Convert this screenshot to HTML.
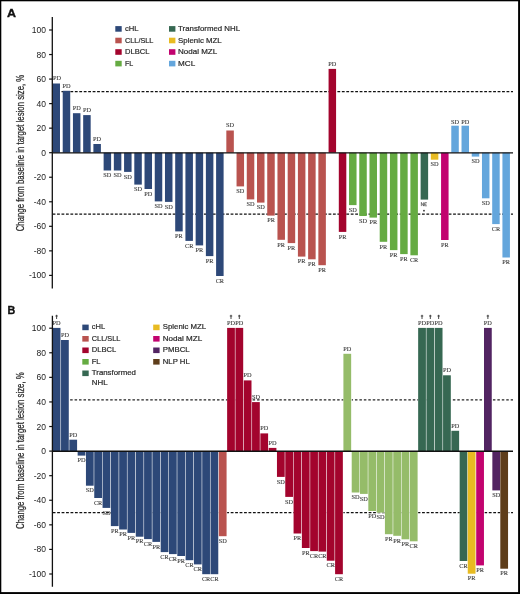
<!DOCTYPE html>
<html><head><meta charset="utf-8"><style>html,body{margin:0;padding:0;background:#fff;}svg{display:block;will-change:transform;}</style></head><body>
<svg width="520" height="594" viewBox="0 0 520 594">
<style>.l{font-family:"Liberation Serif",serif;font-size:6.3px;fill:#383838;stroke:#383838;stroke-width:0.1px;text-anchor:middle}.t{font-family:"Liberation Sans",sans-serif;font-size:8.5px;fill:#222;text-anchor:end}.g{font-family:"Liberation Sans",sans-serif;font-size:7.2px;fill:#2a2a2a;stroke:#2a2a2a;stroke-width:0.2px}.y{font-family:"Liberation Sans",sans-serif;font-size:10px;fill:#2a2a2a;stroke:#2a2a2a;stroke-width:0.25px}.p{font-family:"Liberation Sans",sans-serif;font-size:11.3px;font-weight:bold;fill:#111;stroke:#111;stroke-width:0.35px}</style>
<rect x="0" y="0" width="520" height="594" fill="#fff"/>
<line x1="52.6" y1="91.6" x2="513" y2="91.6" stroke="#111" stroke-width="1.3" stroke-dasharray="2.8 1.65"/>
<line x1="52.6" y1="214.2" x2="513" y2="214.2" stroke="#111" stroke-width="1.3" stroke-dasharray="2.8 1.65"/>
<rect x="52.49" y="83.5" width="7.5" height="69.2" fill="#2d4878"/>
<rect x="62.72" y="90.8" width="7.5" height="61.9" fill="#2d4878"/>
<rect x="72.94" y="113.2" width="7.5" height="39.5" fill="#2d4878"/>
<rect x="83.17" y="115.1" width="7.5" height="37.6" fill="#2d4878"/>
<rect x="93.39" y="144" width="7.5" height="8.7" fill="#2d4878"/>
<rect x="103.62" y="152.7" width="7.5" height="17.8" fill="#2d4878"/>
<rect x="113.84" y="152.7" width="7.5" height="17.8" fill="#2d4878"/>
<rect x="124.07" y="152.7" width="7.5" height="19.2" fill="#2d4878"/>
<rect x="134.3" y="152.7" width="7.5" height="31.9" fill="#2d4878"/>
<rect x="144.52" y="152.7" width="7.5" height="36.3" fill="#2d4878"/>
<rect x="154.75" y="152.7" width="7.5" height="48.7" fill="#2d4878"/>
<rect x="164.97" y="152.7" width="7.5" height="49.2" fill="#2d4878"/>
<rect x="175.2" y="152.7" width="7.5" height="78.7" fill="#2d4878"/>
<rect x="185.42" y="152.7" width="7.5" height="88.2" fill="#2d4878"/>
<rect x="195.65" y="152.7" width="7.5" height="92.7" fill="#2d4878"/>
<rect x="205.88" y="152.7" width="7.5" height="103.4" fill="#2d4878"/>
<rect x="216.1" y="152.7" width="7.5" height="123.3" fill="#2d4878"/>
<rect x="226.33" y="130.5" width="7.5" height="22.2" fill="#b9534f"/>
<rect x="236.55" y="152.7" width="7.5" height="33.7" fill="#b9534f"/>
<rect x="246.78" y="152.7" width="7.5" height="46.7" fill="#b9534f"/>
<rect x="257" y="152.7" width="7.5" height="49.9" fill="#b9534f"/>
<rect x="267.23" y="152.7" width="7.5" height="62.9" fill="#b9534f"/>
<rect x="277.46" y="152.7" width="7.5" height="87.1" fill="#b9534f"/>
<rect x="287.68" y="152.7" width="7.5" height="90.4" fill="#b9534f"/>
<rect x="297.91" y="152.7" width="7.5" height="103.9" fill="#b9534f"/>
<rect x="308.13" y="152.7" width="7.5" height="106.6" fill="#b9534f"/>
<rect x="318.36" y="152.7" width="7.5" height="112.5" fill="#b9534f"/>
<rect x="328.58" y="68.9" width="7.5" height="83.8" fill="#a3042d"/>
<rect x="338.81" y="152.7" width="7.5" height="79.2" fill="#a3042d"/>
<rect x="349.04" y="152.7" width="7.5" height="52.4" fill="#65ab42"/>
<rect x="359.26" y="152.7" width="7.5" height="63.3" fill="#65ab42"/>
<rect x="369.49" y="152.7" width="7.5" height="64.9" fill="#65ab42"/>
<rect x="379.71" y="152.7" width="7.5" height="89.1" fill="#65ab42"/>
<rect x="389.94" y="152.7" width="7.5" height="97.4" fill="#65ab42"/>
<rect x="400.16" y="152.7" width="7.5" height="101.4" fill="#65ab42"/>
<rect x="410.39" y="152.7" width="7.5" height="102.6" fill="#65ab42"/>
<rect x="420.62" y="152.7" width="7.5" height="46.9" fill="#366852"/>
<rect x="430.84" y="152.7" width="7.5" height="7" fill="#e8bb22"/>
<rect x="441.07" y="152.7" width="7.5" height="87.3" fill="#c2036f"/>
<rect x="451.29" y="125.7" width="7.5" height="27" fill="#64a6dc"/>
<rect x="461.52" y="125.7" width="7.5" height="27" fill="#64a6dc"/>
<rect x="471.74" y="152.7" width="7.5" height="3.9" fill="#64a6dc"/>
<rect x="481.97" y="152.7" width="7.5" height="45.6" fill="#64a6dc"/>
<rect x="492.2" y="152.7" width="7.5" height="71.4" fill="#64a6dc"/>
<rect x="502.42" y="152.7" width="7.5" height="104.8" fill="#64a6dc"/>
<line x1="52.3" y1="152.9" x2="513" y2="152.9" stroke="#111111" stroke-width="1.4"/>
<line x1="52.3" y1="17" x2="52.3" y2="288.6" stroke="#111111" stroke-width="1.3"/>
<line x1="49.1" y1="30" x2="52.3" y2="30" stroke="#111111" stroke-width="1.2"/>
<text x="46.0" y="33" class="t">100</text>
<line x1="49.1" y1="54.54" x2="52.3" y2="54.54" stroke="#111111" stroke-width="1.2"/>
<text x="46.0" y="57.54" class="t">80</text>
<line x1="49.1" y1="79.08" x2="52.3" y2="79.08" stroke="#111111" stroke-width="1.2"/>
<text x="46.0" y="82.08" class="t">60</text>
<line x1="49.1" y1="103.62" x2="52.3" y2="103.62" stroke="#111111" stroke-width="1.2"/>
<text x="46.0" y="106.62" class="t">40</text>
<line x1="49.1" y1="128.16" x2="52.3" y2="128.16" stroke="#111111" stroke-width="1.2"/>
<text x="46.0" y="131.16" class="t">20</text>
<line x1="49.1" y1="152.7" x2="52.3" y2="152.7" stroke="#111111" stroke-width="1.2"/>
<text x="46.0" y="155.7" class="t">0</text>
<line x1="49.1" y1="177.24" x2="52.3" y2="177.24" stroke="#111111" stroke-width="1.2"/>
<text x="46.0" y="180.24" class="t">-20</text>
<line x1="49.1" y1="201.78" x2="52.3" y2="201.78" stroke="#111111" stroke-width="1.2"/>
<text x="46.0" y="204.78" class="t">-40</text>
<line x1="49.1" y1="226.32" x2="52.3" y2="226.32" stroke="#111111" stroke-width="1.2"/>
<text x="46.0" y="229.32" class="t">-60</text>
<line x1="49.1" y1="250.86" x2="52.3" y2="250.86" stroke="#111111" stroke-width="1.2"/>
<text x="46.0" y="253.86" class="t">-80</text>
<line x1="49.1" y1="275.4" x2="52.3" y2="275.4" stroke="#111111" stroke-width="1.2"/>
<text x="46.0" y="278.4" class="t">-100</text>
<line x1="52.35" y1="399.9" x2="513" y2="399.9" stroke="#222" stroke-width="1.2" stroke-dasharray="2.5 1.95"/>
<line x1="52.7" y1="512.6" x2="513" y2="512.6" stroke="#111" stroke-width="1.3" stroke-dasharray="2.8 1.65"/>
<rect x="52.73" y="327.9" width="8.3" height="123.2" fill="#fff"/>
<rect x="52.73" y="327.9" width="7.75" height="123.2" fill="#2d4878"/>
<rect x="61.03" y="340" width="8.3" height="111.1" fill="#fff"/>
<rect x="61.03" y="340" width="7.75" height="111.1" fill="#2d4878"/>
<rect x="69.34" y="439.7" width="8.3" height="11.4" fill="#fff"/>
<rect x="69.34" y="439.7" width="7.75" height="11.4" fill="#2d4878"/>
<rect x="77.64" y="451.1" width="8.3" height="4.5" fill="#fff"/>
<rect x="77.64" y="451.1" width="7.75" height="4.5" fill="#2d4878"/>
<rect x="85.95" y="451.1" width="8.3" height="34.6" fill="#fff"/>
<rect x="85.95" y="451.1" width="7.75" height="34.6" fill="#2d4878"/>
<rect x="94.25" y="451.1" width="8.3" height="46.9" fill="#fff"/>
<rect x="94.25" y="451.1" width="7.75" height="46.9" fill="#2d4878"/>
<rect x="102.56" y="451.1" width="8.3" height="56.8" fill="#fff"/>
<rect x="102.56" y="451.1" width="7.75" height="56.8" fill="#2d4878"/>
<rect x="110.86" y="451.1" width="8.3" height="75" fill="#fff"/>
<rect x="110.86" y="451.1" width="7.75" height="75" fill="#2d4878"/>
<rect x="119.17" y="451.1" width="8.3" height="78.4" fill="#fff"/>
<rect x="119.17" y="451.1" width="7.75" height="78.4" fill="#2d4878"/>
<rect x="127.47" y="451.1" width="8.3" height="81.8" fill="#fff"/>
<rect x="127.47" y="451.1" width="7.75" height="81.8" fill="#2d4878"/>
<rect x="135.78" y="451.1" width="8.3" height="85.6" fill="#fff"/>
<rect x="135.78" y="451.1" width="7.75" height="85.6" fill="#2d4878"/>
<rect x="144.08" y="451.1" width="8.3" height="88" fill="#fff"/>
<rect x="144.08" y="451.1" width="7.75" height="88" fill="#2d4878"/>
<rect x="152.39" y="451.1" width="8.3" height="90.8" fill="#fff"/>
<rect x="152.39" y="451.1" width="7.75" height="90.8" fill="#2d4878"/>
<rect x="160.69" y="451.1" width="8.3" height="101" fill="#fff"/>
<rect x="160.69" y="451.1" width="7.75" height="101" fill="#2d4878"/>
<rect x="169" y="451.1" width="8.3" height="103" fill="#fff"/>
<rect x="169" y="451.1" width="7.75" height="103" fill="#2d4878"/>
<rect x="177.3" y="451.1" width="8.3" height="104.9" fill="#fff"/>
<rect x="177.3" y="451.1" width="7.75" height="104.9" fill="#2d4878"/>
<rect x="185.61" y="451.1" width="8.3" height="109.1" fill="#fff"/>
<rect x="185.61" y="451.1" width="7.75" height="109.1" fill="#2d4878"/>
<rect x="193.91" y="451.1" width="8.3" height="113.3" fill="#fff"/>
<rect x="193.91" y="451.1" width="7.75" height="113.3" fill="#2d4878"/>
<rect x="202.22" y="451.1" width="8.3" height="123.1" fill="#fff"/>
<rect x="202.22" y="451.1" width="7.75" height="123.1" fill="#2d4878"/>
<rect x="210.52" y="451.1" width="8.3" height="123.1" fill="#fff"/>
<rect x="210.52" y="451.1" width="7.75" height="123.1" fill="#2d4878"/>
<rect x="218.83" y="451.1" width="8.3" height="85.1" fill="#fff"/>
<rect x="218.83" y="451.1" width="7.75" height="85.1" fill="#b9534f"/>
<rect x="227.13" y="327.9" width="8.3" height="123.2" fill="#fff"/>
<rect x="227.13" y="327.9" width="7.75" height="123.2" fill="#a3042d"/>
<rect x="235.44" y="327.9" width="8.3" height="123.2" fill="#fff"/>
<rect x="235.44" y="327.9" width="7.75" height="123.2" fill="#a3042d"/>
<rect x="243.74" y="380.4" width="8.3" height="70.7" fill="#fff"/>
<rect x="243.74" y="380.4" width="7.75" height="70.7" fill="#a3042d"/>
<rect x="252.05" y="402.1" width="8.3" height="49" fill="#fff"/>
<rect x="252.05" y="402.1" width="7.75" height="49" fill="#a3042d"/>
<rect x="260.36" y="433.4" width="8.3" height="17.7" fill="#fff"/>
<rect x="260.36" y="433.4" width="7.75" height="17.7" fill="#a3042d"/>
<rect x="268.66" y="447.9" width="8.3" height="3.2" fill="#fff"/>
<rect x="268.66" y="447.9" width="7.75" height="3.2" fill="#a3042d"/>
<rect x="276.96" y="451.1" width="8.3" height="25.8" fill="#fff"/>
<rect x="276.96" y="451.1" width="7.75" height="25.8" fill="#a3042d"/>
<rect x="285.27" y="451.1" width="8.3" height="45.8" fill="#fff"/>
<rect x="285.27" y="451.1" width="7.75" height="45.8" fill="#a3042d"/>
<rect x="293.57" y="451.1" width="8.3" height="82.4" fill="#fff"/>
<rect x="293.57" y="451.1" width="7.75" height="82.4" fill="#a3042d"/>
<rect x="301.88" y="451.1" width="8.3" height="96.9" fill="#fff"/>
<rect x="301.88" y="451.1" width="7.75" height="96.9" fill="#a3042d"/>
<rect x="310.19" y="451.1" width="8.3" height="100" fill="#fff"/>
<rect x="310.19" y="451.1" width="7.75" height="100" fill="#a3042d"/>
<rect x="318.49" y="451.1" width="8.3" height="100.5" fill="#fff"/>
<rect x="318.49" y="451.1" width="7.75" height="100.5" fill="#a3042d"/>
<rect x="326.8" y="451.1" width="8.3" height="109.6" fill="#fff"/>
<rect x="326.8" y="451.1" width="7.75" height="109.6" fill="#a3042d"/>
<rect x="335.1" y="451.1" width="8.3" height="123.1" fill="#fff"/>
<rect x="335.1" y="451.1" width="7.75" height="123.1" fill="#a3042d"/>
<rect x="343.41" y="353.8" width="8.3" height="97.3" fill="#fff"/>
<rect x="343.41" y="353.8" width="7.75" height="97.3" fill="#95bc69"/>
<rect x="351.71" y="451.1" width="8.3" height="41.4" fill="#fff"/>
<rect x="351.71" y="451.1" width="7.75" height="41.4" fill="#95bc69"/>
<rect x="360.01" y="451.1" width="8.3" height="42.8" fill="#fff"/>
<rect x="360.01" y="451.1" width="7.75" height="42.8" fill="#95bc69"/>
<rect x="368.32" y="451.1" width="8.3" height="59.9" fill="#fff"/>
<rect x="368.32" y="451.1" width="7.75" height="59.9" fill="#95bc69"/>
<rect x="376.62" y="451.1" width="8.3" height="61.5" fill="#fff"/>
<rect x="376.62" y="451.1" width="7.75" height="61.5" fill="#95bc69"/>
<rect x="384.93" y="451.1" width="8.3" height="83.1" fill="#fff"/>
<rect x="384.93" y="451.1" width="7.75" height="83.1" fill="#95bc69"/>
<rect x="393.24" y="451.1" width="8.3" height="84.7" fill="#fff"/>
<rect x="393.24" y="451.1" width="7.75" height="84.7" fill="#95bc69"/>
<rect x="401.54" y="451.1" width="8.3" height="88.2" fill="#fff"/>
<rect x="401.54" y="451.1" width="7.75" height="88.2" fill="#95bc69"/>
<rect x="409.85" y="451.1" width="8.3" height="90.2" fill="#fff"/>
<rect x="409.85" y="451.1" width="7.75" height="90.2" fill="#95bc69"/>
<rect x="418.15" y="327.9" width="8.3" height="123.2" fill="#fff"/>
<rect x="418.15" y="327.9" width="7.75" height="123.2" fill="#366852"/>
<rect x="426.45" y="327.9" width="8.3" height="123.2" fill="#fff"/>
<rect x="426.45" y="327.9" width="7.75" height="123.2" fill="#366852"/>
<rect x="434.76" y="327.9" width="8.3" height="123.2" fill="#fff"/>
<rect x="434.76" y="327.9" width="7.75" height="123.2" fill="#366852"/>
<rect x="443.06" y="375.3" width="8.3" height="75.8" fill="#fff"/>
<rect x="443.06" y="375.3" width="7.75" height="75.8" fill="#366852"/>
<rect x="451.37" y="430.8" width="8.3" height="20.3" fill="#fff"/>
<rect x="451.37" y="430.8" width="7.75" height="20.3" fill="#366852"/>
<rect x="459.68" y="451.1" width="8.3" height="109.9" fill="#fff"/>
<rect x="459.68" y="451.1" width="7.75" height="109.9" fill="#366852"/>
<rect x="467.75" y="451.1" width="8.3" height="122.6" fill="#fff"/>
<rect x="467.75" y="451.1" width="7.75" height="122.6" fill="#e8bb22"/>
<rect x="476.2" y="451.1" width="8.3" height="114.3" fill="#fff"/>
<rect x="476.2" y="451.1" width="7.75" height="114.3" fill="#c2036f"/>
<rect x="484" y="327.9" width="8.3" height="123.2" fill="#fff"/>
<rect x="484" y="327.9" width="7.75" height="123.2" fill="#522462"/>
<rect x="492.35" y="451.1" width="8.3" height="39.3" fill="#fff"/>
<rect x="492.35" y="451.1" width="7.75" height="39.3" fill="#522462"/>
<rect x="500.3" y="451.1" width="8.3" height="117.6" fill="#fff"/>
<rect x="500.3" y="451.1" width="7.75" height="117.6" fill="#5e3d1a"/>
<line x1="52.4" y1="451.3" x2="513" y2="451.3" stroke="#111111" stroke-width="1.4"/>
<line x1="52.4" y1="315.8" x2="52.4" y2="586.8" stroke="#111111" stroke-width="1.3"/>
<line x1="49.2" y1="328.2" x2="52.4" y2="328.2" stroke="#111111" stroke-width="1.2"/>
<text x="46.0" y="331.2" class="t">100</text>
<line x1="49.2" y1="352.78" x2="52.4" y2="352.78" stroke="#111111" stroke-width="1.2"/>
<text x="46.0" y="355.78" class="t">80</text>
<line x1="49.2" y1="377.36" x2="52.4" y2="377.36" stroke="#111111" stroke-width="1.2"/>
<text x="46.0" y="380.36" class="t">60</text>
<line x1="49.2" y1="401.94" x2="52.4" y2="401.94" stroke="#111111" stroke-width="1.2"/>
<text x="46.0" y="404.94" class="t">40</text>
<line x1="49.2" y1="426.52" x2="52.4" y2="426.52" stroke="#111111" stroke-width="1.2"/>
<text x="46.0" y="429.52" class="t">20</text>
<line x1="49.2" y1="451.1" x2="52.4" y2="451.1" stroke="#111111" stroke-width="1.2"/>
<text x="46.0" y="454.1" class="t">0</text>
<line x1="49.2" y1="475.68" x2="52.4" y2="475.68" stroke="#111111" stroke-width="1.2"/>
<text x="46.0" y="478.68" class="t">-20</text>
<line x1="49.2" y1="500.26" x2="52.4" y2="500.26" stroke="#111111" stroke-width="1.2"/>
<text x="46.0" y="503.26" class="t">-40</text>
<line x1="49.2" y1="524.84" x2="52.4" y2="524.84" stroke="#111111" stroke-width="1.2"/>
<text x="46.0" y="527.84" class="t">-60</text>
<line x1="49.2" y1="549.42" x2="52.4" y2="549.42" stroke="#111111" stroke-width="1.2"/>
<text x="46.0" y="552.42" class="t">-80</text>
<line x1="49.2" y1="574" x2="52.4" y2="574" stroke="#111111" stroke-width="1.2"/>
<text x="46.0" y="577" class="t">-100</text>
<text x="56.94" y="80.3" class="l">PD</text>
<text x="66.47" y="87.6" class="l">PD</text>
<text x="76.69" y="110" class="l">PD</text>
<text x="86.92" y="111.9" class="l">PD</text>
<text x="97.14" y="140.8" class="l">PD</text>
<text x="107.37" y="177.2" class="l">SD</text>
<text x="117.59" y="177.2" class="l">SD</text>
<text x="127.82" y="178.6" class="l">SD</text>
<text x="138.05" y="191.3" class="l">SD</text>
<text x="148.27" y="195.7" class="l">PD</text>
<text x="158.5" y="208.1" class="l">SD</text>
<text x="168.72" y="208.6" class="l">SD</text>
<text x="178.95" y="238.1" class="l">PR</text>
<text x="189.17" y="247.6" class="l">CR</text>
<text x="199.4" y="252.1" class="l">PR</text>
<text x="209.63" y="262.8" class="l">PR</text>
<text x="219.85" y="282.7" class="l">CR</text>
<text x="230.08" y="127.3" class="l">SD</text>
<text x="240.3" y="193.1" class="l">SD</text>
<text x="250.53" y="206.1" class="l">SD</text>
<text x="260.75" y="209.3" class="l">SD</text>
<text x="270.98" y="222.3" class="l">PR</text>
<text x="281.21" y="246.5" class="l">PR</text>
<text x="291.43" y="249.8" class="l">PR</text>
<text x="301.66" y="263.3" class="l">PR</text>
<text x="311.88" y="266" class="l">PR</text>
<text x="322.11" y="271.9" class="l">PR</text>
<text x="332.33" y="66.2" class="l">PD</text>
<text x="342.56" y="238.6" class="l">PR</text>
<text x="352.79" y="211.8" class="l">SD</text>
<text x="363.01" y="222.7" class="l">SD</text>
<text x="373.24" y="224.3" class="l">PR</text>
<text x="383.46" y="248.5" class="l">PR</text>
<text x="393.69" y="256.8" class="l">PR</text>
<text x="403.91" y="260.8" class="l">PR</text>
<text x="414.14" y="262" class="l">CR</text>
<path d="M421.37 206.1V202.4L423.57 206.1V202.4M426.87 202.7H424.67V205.8H426.87M424.67 204.25H426.37" stroke="#383838" stroke-width="0.65" fill="none"/>
<path d="M423.97 210.7m-0.9 0a0.9 0.9 0 1 0 1.8 0a0.9 0.9 0 1 0 -1.8 0" fill="#333"/>
<text x="434.59" y="166.4" class="l">SD</text>
<text x="444.82" y="246.7" class="l">PR</text>
<text x="455.04" y="124.1" class="l">SD</text>
<text x="465.27" y="124.1" class="l">PD</text>
<text x="475.49" y="163.3" class="l">SD</text>
<text x="485.72" y="205" class="l">SD</text>
<text x="495.95" y="230.8" class="l">CR</text>
<text x="506.17" y="264.2" class="l">PR</text>
<text x="56.6" y="324.7" class="l">PD</text>
<path d="M56.6 314.8V319M55.4 316H57.8" stroke="#333" stroke-width="0.9" fill="none"/>
<text x="64.91" y="336.8" class="l">PD</text>
<text x="73.22" y="436.5" class="l">PD</text>
<text x="81.52" y="462.3" class="l">PD</text>
<text x="89.82" y="492.4" class="l">SD</text>
<text x="98.13" y="504.7" class="l">CR</text>
<text x="106.44" y="514.6" class="l">SD</text>
<text x="114.74" y="532.8" class="l">PR</text>
<text x="123.04" y="536.2" class="l">PR</text>
<text x="131.35" y="539.6" class="l">PR</text>
<text x="139.66" y="543.4" class="l">PR</text>
<text x="147.96" y="545.8" class="l">CR</text>
<text x="156.26" y="548.6" class="l">PR</text>
<text x="164.57" y="558.8" class="l">CR</text>
<text x="172.88" y="560.8" class="l">CR</text>
<text x="181.18" y="562.7" class="l">PR</text>
<text x="189.48" y="566.9" class="l">CR</text>
<text x="197.79" y="571.1" class="l">CR</text>
<text x="206.09" y="580.9" class="l">CR</text>
<text x="214.4" y="580.9" class="l">CR</text>
<text x="222.7" y="542.9" class="l">SD</text>
<text x="231.01" y="324.7" class="l">PD</text>
<path d="M231.01 314.8V319M229.81 316H232.21" stroke="#333" stroke-width="0.9" fill="none"/>
<text x="239.31" y="324.7" class="l">PD</text>
<path d="M239.31 314.8V319M238.11 316H240.51" stroke="#333" stroke-width="0.9" fill="none"/>
<text x="247.62" y="377.2" class="l">PD</text>
<text x="255.92" y="398.9" class="l">SD</text>
<text x="264.23" y="430.2" class="l">PD</text>
<text x="272.54" y="444.7" class="l">PD</text>
<text x="280.84" y="483.6" class="l">SD</text>
<text x="289.14" y="503.6" class="l">SD</text>
<text x="297.45" y="540.2" class="l">PR</text>
<text x="305.75" y="554.7" class="l">PR</text>
<text x="314.06" y="557.8" class="l">CR</text>
<text x="322.37" y="558.3" class="l">CR</text>
<text x="330.67" y="567.4" class="l">CR</text>
<text x="338.98" y="580.9" class="l">CR</text>
<text x="347.28" y="350.6" class="l">PD</text>
<text x="355.59" y="499.2" class="l">SD</text>
<text x="363.89" y="500.6" class="l">SD</text>
<text x="372.19" y="517.7" class="l">PD</text>
<text x="380.5" y="519.3" class="l">SD</text>
<text x="388.81" y="540.9" class="l">PR</text>
<text x="397.11" y="542.5" class="l">PR</text>
<text x="405.42" y="546" class="l">PR</text>
<text x="413.72" y="548" class="l">CR</text>
<text x="422.02" y="324.7" class="l">PD</text>
<path d="M422.02 314.8V319M420.82 316H423.22" stroke="#333" stroke-width="0.9" fill="none"/>
<text x="430.33" y="324.7" class="l">PD</text>
<path d="M430.33 314.8V319M429.13 316H431.53" stroke="#333" stroke-width="0.9" fill="none"/>
<text x="438.63" y="324.7" class="l">PD</text>
<path d="M438.63 314.8V319M437.44 316H439.83" stroke="#333" stroke-width="0.9" fill="none"/>
<text x="446.94" y="372.1" class="l">PD</text>
<text x="455.25" y="427.6" class="l">PD</text>
<text x="463.55" y="567.7" class="l">CR</text>
<text x="471.62" y="580.4" class="l">PR</text>
<text x="480.07" y="572.1" class="l">PR</text>
<text x="487.88" y="324.7" class="l">PD</text>
<path d="M487.88 314.8V319M486.68 316H489.07" stroke="#333" stroke-width="0.9" fill="none"/>
<text x="496.23" y="497.1" class="l">SD</text>
<text x="504.18" y="575.4" class="l">PR</text>
<text x="7.0" y="16.9" class="p" textLength="9.0" lengthAdjust="spacingAndGlyphs">A</text>
<text x="7.4" y="314.3" class="p" textLength="7.8" lengthAdjust="spacingAndGlyphs">B</text>
<text transform="translate(24.0 153) rotate(-90)" x="0" y="0" class="y" text-anchor="middle" textLength="156.6" lengthAdjust="spacingAndGlyphs">Change from baseline in target lesion size, %</text>
<text transform="translate(24.0 450.6) rotate(-90)" x="0" y="0" class="y" text-anchor="middle" textLength="156.6" lengthAdjust="spacingAndGlyphs">Change from baseline in target lesion size, %</text>
<rect x="115.3" y="26.1" width="6.4" height="5.6" fill="#2d4878"/>
<text x="125" y="30.9" class="g" textLength="13.6" lengthAdjust="spacingAndGlyphs">cHL</text>
<rect x="115.3" y="37.7" width="6.4" height="5.6" fill="#b9534f"/>
<text x="125" y="42.5" class="g" textLength="28.4" lengthAdjust="spacingAndGlyphs">CLL/SLL</text>
<rect x="115.3" y="49.2" width="6.4" height="5.6" fill="#a3042d"/>
<text x="125" y="54" class="g" textLength="24.4" lengthAdjust="spacingAndGlyphs">DLBCL</text>
<rect x="115.3" y="60.8" width="6.4" height="5.6" fill="#65ab42"/>
<text x="125" y="65.6" class="g" textLength="8.3" lengthAdjust="spacingAndGlyphs">FL</text>
<rect x="169.0" y="26.1" width="6.4" height="5.6" fill="#366852"/>
<text x="178.1" y="30.9" class="g" textLength="61.9" lengthAdjust="spacingAndGlyphs">Transformed NHL</text>
<rect x="169.0" y="37.7" width="6.4" height="5.6" fill="#e8bb22"/>
<text x="178.1" y="42.5" class="g" textLength="43.6" lengthAdjust="spacingAndGlyphs">Splenic MZL</text>
<rect x="169.0" y="49.2" width="6.4" height="5.6" fill="#c2036f"/>
<text x="178.1" y="54" class="g" textLength="39.1" lengthAdjust="spacingAndGlyphs">Nodal MZL</text>
<rect x="169.0" y="60.8" width="6.4" height="5.6" fill="#64a6dc"/>
<text x="178.1" y="65.6" class="g" textLength="17.1" lengthAdjust="spacingAndGlyphs">MCL</text>
<rect x="82.3" y="324.6" width="6.4" height="5.6" fill="#2d4878"/>
<text x="91.8" y="329.4" class="g" textLength="13.4" lengthAdjust="spacingAndGlyphs">cHL</text>
<rect x="82.3" y="336" width="6.4" height="5.6" fill="#b9534f"/>
<text x="91.8" y="340.8" class="g" textLength="28.5" lengthAdjust="spacingAndGlyphs">CLL/SLL</text>
<rect x="82.3" y="347.5" width="6.4" height="5.6" fill="#a3042d"/>
<text x="91.8" y="352.3" class="g" textLength="24.3" lengthAdjust="spacingAndGlyphs">DLBCL</text>
<rect x="82.3" y="359" width="6.4" height="5.6" fill="#65ab42"/>
<text x="91.8" y="363.8" class="g" textLength="8.7" lengthAdjust="spacingAndGlyphs">FL</text>
<rect x="82.3" y="370.5" width="6.4" height="5.6" fill="#366852"/>
<text x="91.8" y="375.3" class="g" textLength="44.1" lengthAdjust="spacingAndGlyphs">Transformed</text>
<text x="91.8" y="384.9" class="g" textLength="15.8" lengthAdjust="spacingAndGlyphs">NHL</text>
<rect x="153.2" y="324.6" width="6.4" height="5.6" fill="#e8bb22"/>
<text x="162.8" y="329.4" class="g" textLength="43.3" lengthAdjust="spacingAndGlyphs">Splenic MZL</text>
<rect x="153.2" y="336" width="6.4" height="5.6" fill="#c2036f"/>
<text x="162.8" y="340.8" class="g" textLength="39.4" lengthAdjust="spacingAndGlyphs">Nodal MZL</text>
<rect x="153.2" y="347.5" width="6.4" height="5.6" fill="#522462"/>
<text x="162.8" y="352.3" class="g" textLength="26.9" lengthAdjust="spacingAndGlyphs">PMBCL</text>
<rect x="153.2" y="359" width="6.4" height="5.6" fill="#5e3d1a"/>
<text x="162.8" y="363.8" class="g" textLength="26.9" lengthAdjust="spacingAndGlyphs">NLP HL</text>
<rect x="0" y="0" width="520" height="1.3" fill="#000"/>
<rect x="0" y="0" width="1.3" height="594" fill="#000"/>
<rect x="518.1" y="0" width="1.9" height="594" fill="#000"/>
<rect x="0" y="592.1" width="520" height="1.9" fill="#000"/>
</svg>
</body></html>
